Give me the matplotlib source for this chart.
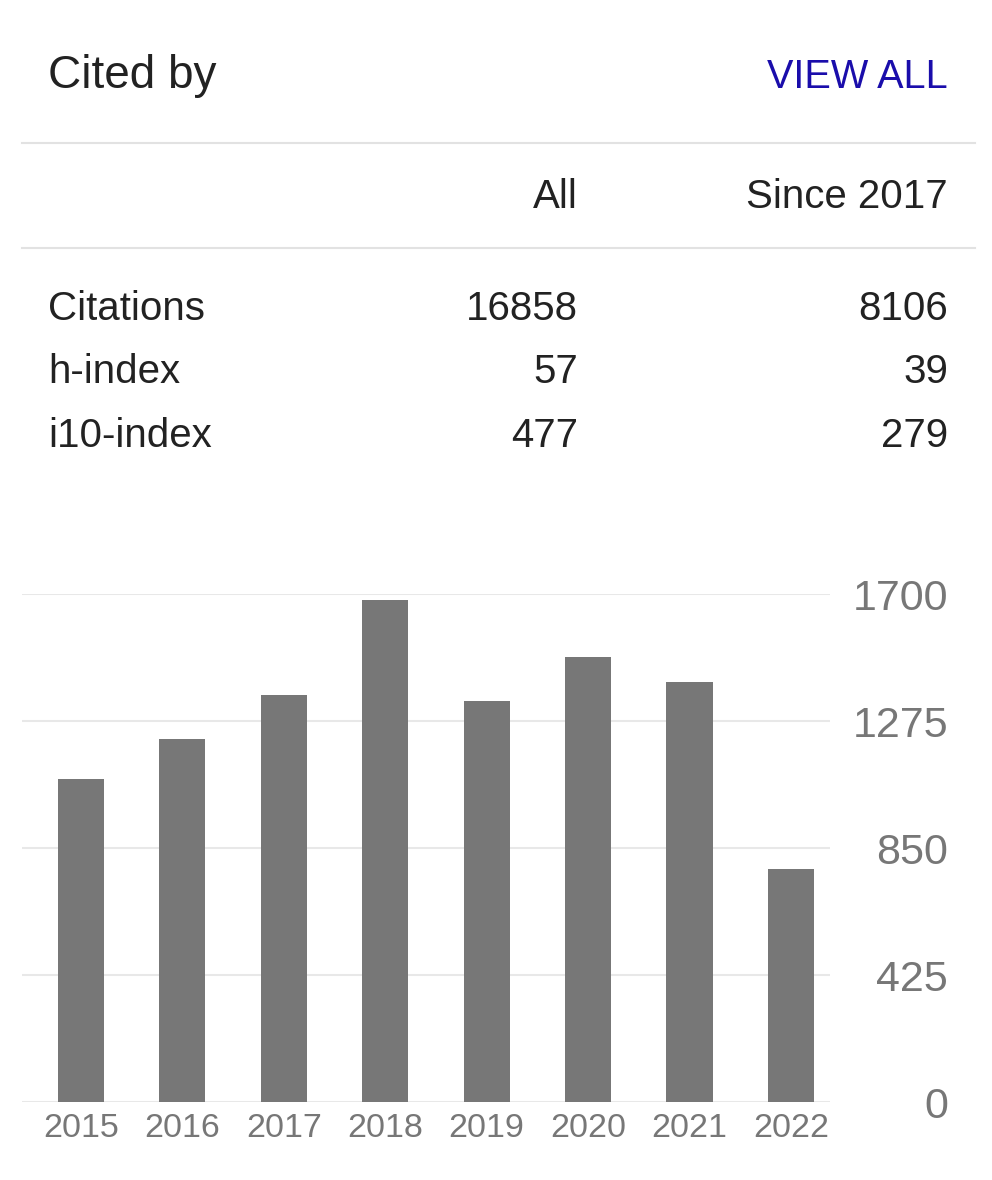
import numpy as np
import matplotlib.pyplot as plt
from matplotlib.lines import Line2D

plt.rcParams['font.family'] = ['Liberation Sans', 'DejaVu Sans']

years = ['2015', '2016', '2017', '2018', '2019', '2020', '2021', '2022']
cites = [1081, 1215, 1362, 1680, 1342, 1489, 1406, 780]
yticks = [0, 425, 850, 1275, 1700]

row_names = ['Citations', 'h-index', 'i10-index']
col_all = ['16858', '57', '477']
col_since = ['8106', '39', '279']

W, H = 992, 1180
fig = plt.figure(figsize=(W / 100, H / 100), dpi=100)
fig.patch.set_facecolor('white')

def px(x, y):
    # pixel coords (from top-left) -> figure fraction
    return x / W, 1 - y / H

dark = '#222222'
grey = '#777777'

# header
fig.text(*px(48, 88), 'Cited by', fontsize=33, color=dark, va='baseline')
fig.text(*px(948, 88), 'VIEW ALL', fontsize=28.5, color='#1a0dab', va='baseline', ha='right')
for yy in (143, 248):
    x0, y0 = px(22, yy)
    x1, _ = px(975, yy)
    fig.add_artist(Line2D([x0, x1], [y0, y0], color='#e2e2e2', lw=1.5))

fig.text(*px(578, 208), 'All', fontsize=29, color=dark, va='baseline', ha='right')
fig.text(*px(948, 208), 'Since 2017', fontsize=29, color=dark, va='baseline', ha='right')

row_y = [320, 383, 447]
for name, a, s, yy in zip(row_names, col_all, col_since, row_y):
    fig.text(*px(48, yy), name, fontsize=29, color=dark, va='baseline')
    fig.text(*px(578, yy), a, fontsize=29, color=dark, va='baseline', ha='right')
    fig.text(*px(948, yy), s, fontsize=29, color=dark, va='baseline', ha='right')

# bar chart
left, right, top, bottom = 22, 830, 594, 1102
ax = fig.add_axes([left / W, 1 - bottom / H, (right - left) / W, (bottom - top) / H])
x = np.arange(len(years))
ax.bar(x, cites, width=0.455, color='#777777', zorder=2)
ax.set_xlim(-0.58, len(years) - 1 + 0.385)
ax.set_ylim(0, 1700)
for spine in ax.spines.values():
    spine.set_visible(False)
ax.set_yticks(yticks)
ax.yaxis.grid(True, color='#e8e8e8', lw=1.5, zorder=0)
ax.set_axisbelow(True)
ax.yaxis.tick_right()
ax.set_yticklabels([str(t) for t in yticks], fontsize=31, color=grey, ha='right')
ax.tick_params(axis='y', length=0, pad=(948 - right) * 0.72)
ax.set_xticks(x)
ax.set_xticklabels(years, fontsize=24.5, color=grey)
ax.tick_params(axis='x', length=0, pad=8)

fig.savefig('out.png', dpi=100, facecolor='white')
